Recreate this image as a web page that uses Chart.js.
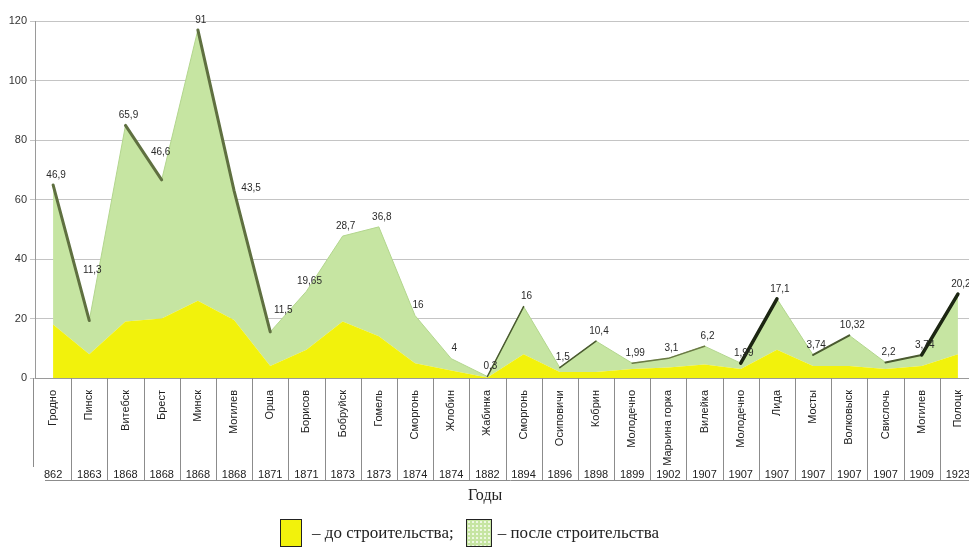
<!DOCTYPE html>
<html lang="ru">
<head>
<meta charset="utf-8">
<title>Население городов до и после строительства железной дороги</title>
<script src="https://cdn.jsdelivr.net/npm/chart.js@4.4.0/dist/chart.umd.min.js"></script>
<style>
    html, body { margin: 0; padding: 0; background: #fff; overflow: hidden; }
    .wrap { position: relative; width: 985px; height: 554px; }
    .axis-title {
        position: absolute; left: 468px; top: 486px;
        font: 16px "Liberation Serif", "Times New Roman", serif; color: #222;
    }
    .legend {
        position: absolute; left: 280px; top: 519px;
        display: flex; align-items: center;
        font: 17px "Liberation Serif", "Times New Roman", serif; color: #222;
    }
    .legend .box { display: inline-block; border: 1.5px solid #222; box-sizing: border-box; }
    .legend .before { width: 22px; height: 28px; background: #f2f20c; margin-right: 10px; }
    .legend .after {
        width: 26px; height: 28px; margin: 0 6px 0 12px;
        background-color: #c6e5a2;
        background-image: radial-gradient(#eef8e2 1px, transparent 1.4px);
        background-size: 4px 4px;
    }
</style>
</head>
<body>
<div class="wrap">
    <canvas id="chart" width="985" height="554"></canvas>
    <div class="axis-title">Годы</div>
    <div class="legend">
        <span class="box before"></span><span>– до строительства;</span>
        <span class="box after"></span><span>– после строительства</span>
    </div>
</div>
<script>
const CITIES = ['Гродно', 'Пинск', 'Витебск', 'Брест', 'Минск', 'Могилев', 'Орша', 'Борисов', 'Бобруйск',
    'Гомель', 'Сморгонь', 'Жлобин', 'Жабинка', 'Сморгонь', 'Осиповичи', 'Кобрин', 'Молодечно',
    'Марьина горка', 'Вилейка', 'Молодечно', 'Лида', 'Мосты', 'Волковыск', 'Свислочь', 'Могилев', 'Полоцк'];
const YEARS = ['862', '1863', '1868', '1868', '1868', '1868', '1871', '1871', '1873', '1873', '1874', '1874',
    '1882', '1894', '1896', '1898', '1899', '1902', '1907', '1907', '1907', '1907', '1907', '1907', '1909', '1923'];
// население до строительства (жёлтая область)
const BEFORE = [18, 8, 19, 20, 26, 19.5, 4, 9.5, 19, 14, 5, 2.5, 0.2, 8, 2, 2, 3, 3.5, 4.5, 3, 9.5, 4, 4, 3, 4, 8];
// прирост после строительства (зелёная область, подписи)
const INCREASE = [46.9, 11.3, 65.9, 46.6, 91, 43.5, 11.5, 19.65, 28.7, 36.8, 16, 4, 0.3, 16, 1.5, 10.4, 1.99,
    3.1, 6.2, 1.99, 17.1, 3.74, 10.32, 2.2, 3.74, 20.2];
const Y_TICKS = [0, 20, 40, 60, 80, 100, 120];

// top edge of the green area, for the strokes drawn over it
const TOTAL = BEFORE.map((b, i) => b + INCREASE[i]);

// hand-drawn strokes over the top edge: segment start index -> [colour, width]
const SEGMENT_STYLE = {
    0: ['#5f7040', 3], 2: ['#5f7040', 3], 4: ['#5f7040', 3], 5: ['#5f7040', 3],
    12: ['#4a5a30', 1.5], 14: ['#4a5a30', 1.5], 16: ['#6a7a45', 1.5], 17: ['#6a7a45', 1.5],
    19: ['#1c2612', 3.5], 21: ['#4a5a30', 2], 23: ['#4a5a30', 2], 24: ['#1c2612', 3.5]
};
// small offsets for labels that sit away from their point
const LABEL_NUDGE = { 1: [0, -40], 3: [-4, -18], 5: [14, 8], 6: [10, -12] };

function formatRu(value) {
    return String(value).replace('.', ',');
}

const valueLabels = {
    id: 'valueLabels',
    afterDatasetsDraw(chart) {
        const meta = chart.getDatasetMeta(1);
        const ctx = chart.ctx;
        ctx.save();
        ctx.font = '10px "Liberation Sans", Arial, sans-serif';
        ctx.fillStyle = '#2a2a2a';
        ctx.textAlign = 'center';
        ctx.textBaseline = 'bottom';
        meta.data.forEach((pt, i) => {
            const nudge = LABEL_NUDGE[i] || [0, 0];
            ctx.fillText(formatRu(INCREASE[i]), pt.x + 3 + nudge[0], pt.y - 5 + nudge[1]);
        });
        ctx.restore();
    }
};

const labelCells = {
    id: 'labelCells',
    afterDraw(chart) {
        const { ctx, chartArea, scales } = chart;
        const n = CITIES.length;
        const step = (chartArea.right - chartArea.left) / n;
        const bottom = scales.x2.bottom - 2;
        ctx.save();
        ctx.strokeStyle = '#8c8c8c';
        ctx.lineWidth = 1;
        ctx.beginPath();
        for (let i = 1; i <= n; i++) {
            const x = Math.round(chartArea.left + i * step) + 0.5;
            ctx.moveTo(x, chartArea.bottom);
            ctx.lineTo(x, bottom);
        }
        ctx.moveTo(chartArea.left - 1.5, chartArea.bottom);
        ctx.lineTo(chartArea.left - 1.5, bottom - 13);
        ctx.moveTo(chartArea.left + 10, bottom + 0.5);
        ctx.lineTo(chartArea.right, bottom + 0.5);
        ctx.stroke();
        ctx.restore();
    }
};

new Chart(document.getElementById('chart'), {
    type: 'line',
    data: {
        labels: CITIES,
        datasets: [
            {
                label: 'до строительства',
                data: BEFORE,
                fill: 'origin',
                backgroundColor: '#f2f20c',
                borderColor: '#f2f20c',
                borderWidth: 0,
                pointRadius: 0,
                tension: 0
            },
            {
                label: 'после строительства',
                data: INCREASE,
                fill: '-1',
                backgroundColor: '#c6e5a2',
                borderColor: '#b3d68e',
                borderWidth: 1,
                pointRadius: 0,
                tension: 0
            },
            {
                label: 'edge',
                data: TOTAL,
                stack: 'edge',
                order: -1,
                fill: false,
                borderColor: 'rgba(0,0,0,0)',
                borderWidth: 1,
                borderCapStyle: 'round',
                pointRadius: 0,
                tension: 0,
                segment: {
                    borderColor: (ctx) => SEGMENT_STYLE[ctx.p0DataIndex]?.[0] || 'rgba(0,0,0,0)',
                    borderWidth: (ctx) => SEGMENT_STYLE[ctx.p0DataIndex]?.[1] || 1
                }
            }
        ]
    },
    options: {
        responsive: false,
        animation: false,
        layout: { padding: { top: 21, right: 9, bottom: 72, left: 0 } },
        plugins: {
            legend: { display: false },
            tooltip: { enabled: false }
        },
        scales: {
            x: {
                offset: true,
                grid: { display: false },
                border: { display: true, color: '#9a9a9a' },
                ticks: {
                    autoSkip: false,
                    minRotation: 90,
                    maxRotation: 90,
                    padding: 4,
                    color: '#222',
                    font: { family: '"Liberation Sans", Arial, sans-serif', size: 11 }
                },
                afterFit: (scale) => { scale.height = 88; }
            },
            x2: {
                type: 'category',
                labels: YEARS,
                position: 'bottom',
                offset: true,
                grid: { display: false, drawTicks: false },
                border: { display: false },
                ticks: {
                    autoSkip: false,
                    maxRotation: 0,
                    padding: 2,
                    color: '#222',
                    font: { family: '"Liberation Sans", Arial, sans-serif', size: 11 }
                },
                afterFit: (scale) => { scale.height = 16; }
            },
            y: {
                stacked: true,
                min: 0,
                max: 120,
                afterBuildTicks: (scale) => { scale.ticks = Y_TICKS.map((v) => ({ value: v })); },
                grid: { color: '#c4c4c4', tickLength: 5 },
                border: { color: '#9a9a9a' },
                ticks: {
                    padding: 3,
                    color: '#333',
                    font: { family: '"Liberation Sans", Arial, sans-serif', size: 11 }
                },
                afterFit: (scale) => { scale.width = 35; }
            }
        }
    },
    plugins: [valueLabels, labelCells]
});
</script>
</body>
</html>
